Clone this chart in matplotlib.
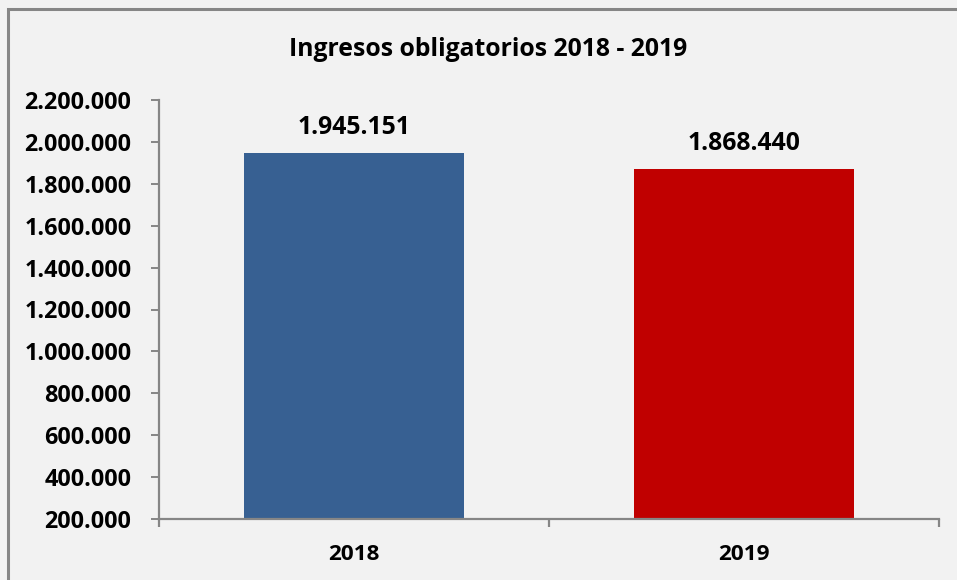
import matplotlib.pyplot as plt
from matplotlib.patches import Rectangle
from matplotlib.ticker import FuncFormatter, FixedLocator

anios = ["2018", "2019"]
ingresos = [1945151, 1868440]
colores = ["#376092", "#C00000"]
ticks_y = [200000, 400000, 600000, 800000, 1000000, 1200000, 1400000,
           1600000, 1800000, 2000000, 2200000]

plt.rcParams['font.family'] = ['Open Sans', 'DejaVu Sans']
plt.rcParams['font.weight'] = 'bold'

fondo = "#F2F2F2"
gris = "#868686"

fig = plt.figure(figsize=(9.57, 5.8), dpi=100, facecolor=fondo)
fig.patches.append(Rectangle((8 / 957, -0.1), 1.2, (580 - 9) / 580 + 0.1,
                             transform=fig.transFigure, fill=False,
                             edgecolor=gris, linewidth=2.2))

ax = fig.add_axes([159 / 957, (580 - 519) / 580, 780 / 957, 419 / 580])
ax.set_facecolor(fondo)

def miles(v, pos=None):
    return f"{int(v):,}".replace(",", ".")

x = list(range(len(anios)))
barras = ax.bar(x, ingresos, width=0.565, color=colores, bottom=0)
ax.set_xlim(-0.5, 1.5)
ax.set_ylim(200000, 2200000)
ax.set_yticks(ticks_y)
ax.yaxis.set_major_formatter(FuncFormatter(miles))
ax.set_xticks(x)
ax.set_xticklabels(anios)
ax.xaxis.set_minor_locator(FixedLocator([-0.5, 0.5, 1.5]))

for s in ["top", "right"]:
    ax.spines[s].set_visible(False)
for s in ["left", "bottom"]:
    ax.spines[s].set_color(gris)
    ax.spines[s].set_linewidth(1.6)

ax.tick_params(axis="y", length=5.8, width=1.4, color=gris, labelsize=16.8, pad=14)
ax.tick_params(axis="x", which="major", length=0, labelsize=16.2, pad=18)
ax.tick_params(axis="x", which="minor", length=5.8, width=1.6, color=gris)
for t in ax.get_xticklabels() + ax.get_yticklabels():
    t.set_fontweight("bold")

for xi, v in zip(x, ingresos):
    ax.annotate(miles(v), (xi, v), xytext=(0, 19), textcoords="offset points",
                ha="center", va="center", fontsize=17.8, fontweight="bold")

fig.text(488 / 957, 1 - 50 / 580, "Ingresos obligatorios 2018 - 2019",
         ha="center", va="center", fontsize=17.8, fontweight="bold")

fig.savefig("out.png", dpi=100, facecolor=fondo)
